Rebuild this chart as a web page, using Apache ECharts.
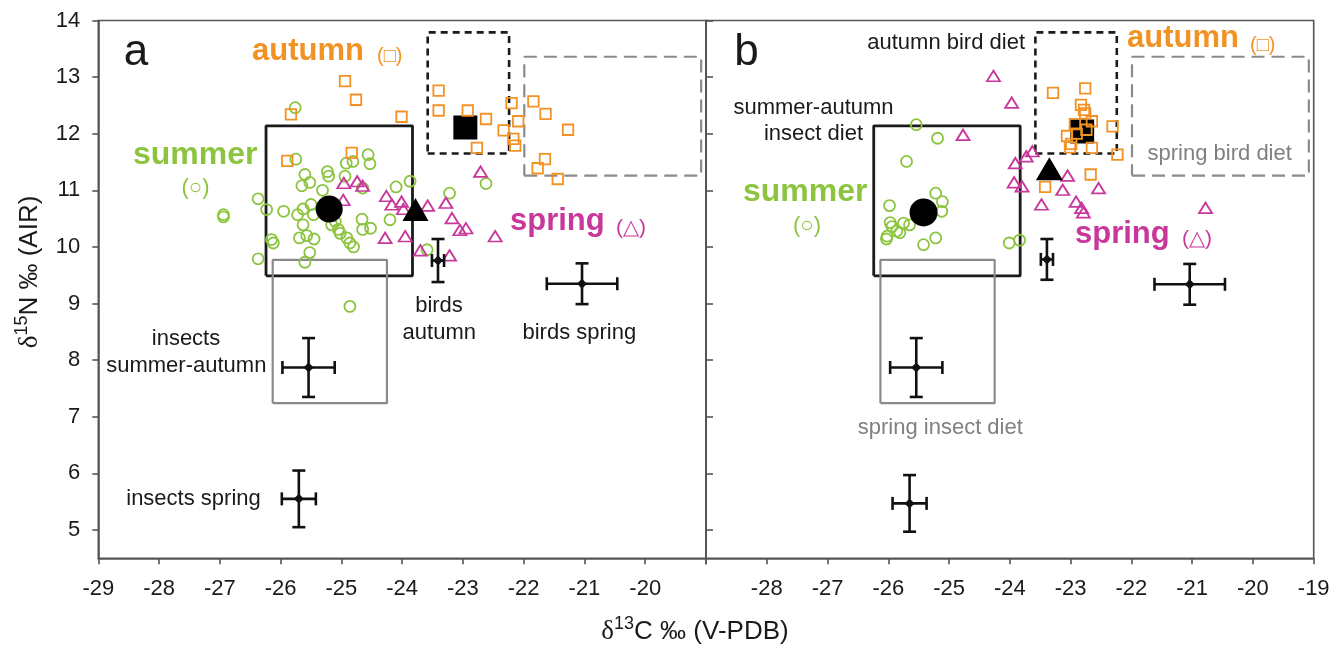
<!DOCTYPE html>
<html><head><meta charset="utf-8">
<script src="https://cdn.jsdelivr.net/npm/echarts@6/dist/echarts.min.js"></script>
<style>html,body{margin:0;padding:0;background:#fff}#c{width:1344px;height:649px}</style>
</head><body><div id="c"></div>
<script>
// ---------- data ----------
const xTicks = [-29,-28,-27,-26,-25,-24,-23,-22,-21,-20,-19];
const yTicks = [5,6,7,8,9,10,11,12,13,14];

// panel a : individual samples [d13C, d15N]
const summerA = [[-25.76,12.46],[-25.75,11.55],[-24.81,11.51],[-24.56,11.63],[-24.53,11.47],[-24.92,11.48],
 [-25.60,11.28],[-25.23,11.33],[-25.21,11.25],[-25.52,11.14],[-25.65,11.08],[-24.94,11.25],
 [-25.31,11.00],[-24.65,11.04],[-24.10,11.06],[-23.87,11.16],[-23.22,10.95],[-22.62,11.12],
 [-26.37,10.85],[-26.23,10.66],[-25.95,10.63],[-25.72,10.57],[-25.63,10.67],[-25.50,10.75],
 [-25.46,10.57],[-25.63,10.39],[-25.10,10.45],[-25.16,10.39],[-25.05,10.31],[-25.02,10.24],
 [-24.66,10.49],[-24.52,10.33],[-24.65,10.31],[-24.20,10.48],[-25.69,10.16],[-25.57,10.20],
 [-25.45,10.14],[-26.15,10.13],[-26.12,10.07],[-24.91,10.16],[-24.86,10.07],[-24.80,10.00],
 [-25.52,9.90],[-26.37,9.79],[-25.60,9.73],[-23.59,9.95],[-26.94,10.57],[-26.94,10.53],[-24.86,8.95]];
const autumnA = [[-24.94,12.93],[-24.76,12.60],[-25.83,12.34],[-24.01,12.30],[-24.83,11.66],[-25.89,11.52],
 [-23.40,12.76],[-23.40,12.41],[-22.92,12.41],[-22.62,12.26],[-22.77,11.75],[-22.33,12.06],
 [-22.20,12.54],[-22.09,12.22],[-22.17,11.91],[-22.14,11.79],[-21.84,12.57],[-21.64,12.35],
 [-21.27,12.07],[-21.65,11.55],[-21.77,11.39],[-21.44,11.20]];
const springA = [[-24.96,11.13],[-24.74,11.16],[-24.65,11.08],[-24.97,10.83],[-24.26,10.90],[-24.17,10.75],
 [-24.01,10.80],[-23.98,10.67],[-23.58,10.73],[-24.28,10.16],[-23.95,10.19],[-23.70,9.94],
 [-22.71,11.33],[-23.28,10.78],[-23.18,10.51],[-23.05,10.30],[-22.95,10.33],[-22.47,10.19],[-23.22,9.85]];

// panel b
const summerB = [[-25.54,12.16],[-25.19,11.92],[-25.70,11.51],[-25.22,10.95],[-25.11,10.80],[-25.12,10.63],
 [-25.98,10.73],[-25.97,10.43],[-25.94,10.36],[-25.75,10.42],[-25.65,10.39],[-25.86,10.28],
 [-25.81,10.25],[-26.03,10.14],[-26.02,10.19],[-25.42,10.04],[-25.22,10.16],[-24.01,10.07],[-23.84,10.12]];
const autumnB = [[-23.29,12.72],[-22.76,12.80],[-22.83,12.51],[-22.78,12.42],[-22.76,12.36],[-22.65,12.22],
 [-22.93,12.17],[-22.74,12.07],[-23.06,11.96],[-22.90,12.00],[-22.99,11.82],[-23.01,11.76],
 [-22.65,11.75],[-22.31,12.13],[-22.23,11.63],[-22.67,11.28],[-23.42,11.06]];
const springB = [[-24.27,13.02],[-23.97,12.55],[-24.77,11.98],[-23.63,11.69],[-23.73,11.60],[-23.91,11.48],
 [-23.93,11.14],[-23.80,11.07],[-23.05,11.26],[-23.13,11.01],[-22.54,11.04],[-23.48,10.75],
 [-22.91,10.80],[-22.82,10.69],[-22.79,10.61],[-20.78,10.69]];

// seasonal means [panel a, panel b]
const meanSummer = [[-25.20,10.67],[-25.42,10.61]];
const meanSpring = [[-23.78,10.66],[-23.35,11.38]];
const meanAutumn = [[-22.96,12.11],[-22.81,12.04]];

// group means with SD: [x, y, sdX, sdY]  (insects summer-autumn, insects spring, birds autumn, birds spring)
const crossesA = [[-25.54,7.87,0.43,0.52],[-25.70,5.55,0.28,0.50],[-23.41,9.76,0.10,0.38],[-21.04,9.35,0.58,0.36]];
const crossesB = [[-25.54,7.87,0.43,0.52],[-25.65,5.47,0.28,0.50],[-23.39,9.78,0.10,0.36],[-21.04,9.34,0.58,0.36]];

// diet boxes [x1, y1, x2, y2]
const boxInsectSumAut = [-26.24, 9.49, -23.83, 12.14];
const boxInsectSpring = [-26.13, 7.24, -24.25, 9.77];
const boxBirdAutumn  = [-23.58, 11.65, -22.24, 13.79];
const boxBirdSpring  = [-21.99, 11.26, -19.08, 13.36];

// ---------- styling ----------
const FONT = '"Liberation Sans", Arial, Helvetica, sans-serif';
const GREEN = '#8cc43f', ORANGE = '#f39224', MAGENTA = '#c8389b', AXIS = '#555';
const G_TOP = 20.5, G_H = 537.8;

function rectPath(b){ return [[b[0],b[1]],[b[2],b[1]],[b[2],b[3]],[b[0],b[3]],[b[0],b[1]]]; }

function boxSeries(i, b, color, width, type){
  return {type:'line', xAxisIndex:i, yAxisIndex:i, data:rectPath(b), symbol:'none', silent:true,
    lineStyle:{color, width, type}, z:2, animation:false};
}
function pointSeries(i, data, symbol, size, color, z){
  return {type:'scatter', xAxisIndex:i, yAxisIndex:i, data, symbol, symbolSize:size, silent:true, z,
    itemStyle:{color:'rgba(0,0,0,0)', borderColor:color, borderWidth:1.8, opacity:1}, animation:false};
}
function crossSeries(i, data){
  return {type:'custom', xAxisIndex:i, yAxisIndex:i, data, silent:true, z:6, animation:false,
    encode:{x:0,y:1},
    renderItem(params, api){
      const x=api.value(0), y=api.value(1), ex=api.value(2), ey=api.value(3);
      const c=api.coord([x,y]), l=api.coord([x-ex,y]), r=api.coord([x+ex,y]);
      const t=api.coord([x,y+ey]), b=api.coord([x,y-ey]);
      const cap=6.5, st={stroke:'#111', lineWidth:2.6};
      const ln=(x1,y1,x2,y2)=>({type:'line', shape:{x1,y1,x2,y2}, style:st});
      return {type:'group', children:[
        ln(l[0],c[1],r[0],c[1]), ln(c[0],t[1],c[0],b[1]),
        ln(l[0],c[1]-cap,l[0],c[1]+cap), ln(r[0],c[1]-cap,r[0],c[1]+cap),
        ln(c[0]-cap,t[1],c[0]+cap,t[1]), ln(c[0]-cap,b[1],c[0]+cap,b[1]),
        {type:'polygon', shape:{points:[[c[0],c[1]-5],[c[0]+5,c[1]],[c[0],c[1]+5],[c[0]-5,c[1]]]}, style:{fill:'#111'}}
      ]};
    }};
}
function meanSeries(i, sizes){
  return {type:'scatter', xAxisIndex:i, yAxisIndex:i, silent:true, z:7, animation:false,
    itemStyle:{color:'#000', opacity:1},
    data:[
      {value:meanSummer[i], symbol:'circle', symbolSize:sizes[0]},
      {value:meanSpring[i], symbol:'triangle', symbolSize:sizes[1]},
      {value:meanAutumn[i], symbol:'rect', symbolSize:sizes[2]}
    ]};
}
function panelSeries(i, summer, spring, autumn, crosses, sizes){
  return [
    boxSeries(i, boxInsectSumAut, '#1a1a1a', 2.8, 'solid'),
    boxSeries(i, boxInsectSpring, '#8a8a8a', 2.2, 'solid'),
    boxSeries(i, boxBirdAutumn, '#1a1a1a', 2.6, [7,5]),
    boxSeries(i, boxBirdSpring, '#8a8a8a', 2.2, [13,7]),
    pointSeries(i, summer, 'circle', 11, GREEN, 4),
    pointSeries(i, spring, 'triangle', [13,10.5], MAGENTA, 4),
    crossSeries(i, crosses),
    meanSeries(i, sizes),
    pointSeries(i, autumn, 'rect', 10.5, ORANGE, 8)
  ];
}

function xAxis(i){
  return {type:'value', gridIndex:i, min:-29, max:-19, interval:1,
    axisLine:{lineStyle:{color:AXIS, width:1.6}},
    axisTick:{length:6, lineStyle:{color:AXIS, width:1.6}},
    axisLabel:{fontSize:22, color:'#1a1a1a', fontFamily:FONT, margin:20,
      formatter:v => ((i===0 && v===-19) || (i===1 && v===-29)) ? '' : String(v)},
    splitLine:{show:false}};
}
function yAxis(i){
  return {type:'value', gridIndex:i, min:4.5, max:14,
    axisLine:{show:true, lineStyle:{color:AXIS, width:1.6}},
    axisTick:{show:true, inside:i===1, length:i===1?7:6, customValues:yTicks, lineStyle:{color:AXIS, width:1.6}},
    axisLabel:{show:i===0, fontSize:22, color:'#1a1a1a', fontFamily:FONT, margin:18, customValues:yTicks},
    splitLine:{show:false}};
}

function txt(x, y, text, o){
  o = o || {};
  return {type:'text', x, y, silent:true, z:20, style:{text, fill:o.color||'#1a1a1a', fontSize:o.size||22,
    fontFamily:o.family||FONT, fontWeight:o.weight||'normal', align:o.align||'center', verticalAlign:'middle'}};
}
const bold = (c)=>({color:c, size:31, weight:'bold', align:'left'});

const richName = {
  d:{fontFamily:'"Liberation Serif", "Times New Roman", serif', fontSize:27, fill:'#1a1a1a', lineHeight:34},
  s:{fontFamily:FONT, fontSize:18, fill:'#1a1a1a', lineHeight:18, verticalAlign:'top'},
  n:{fontFamily:FONT, fontSize:26, fill:'#1a1a1a', lineHeight:34}
};

const graphics = [
  // panel a
  txt(136, 53, 'a', {size:44}),
  txt(252, 51, 'autumn', bold(ORANGE)),
  txt(377, 56, '(□)', {color:ORANGE, size:20, align:'left'}),
  txt(133, 155.6, 'summer', {color:GREEN, size:32, weight:'bold', align:'left'}),
  txt(195.5, 188, '(○)', {color:GREEN, size:22}),
  txt(510, 221, 'spring', bold(MAGENTA)),
  txt(616, 228, '(△)', {color:MAGENTA, size:21, align:'left'}),
  txt(186, 339, 'insects'),
  txt(186.3, 366, 'summer-autumn'),
  txt(193.5, 499.4, 'insects spring'),
  txt(439, 306, 'birds'),
  txt(439.3, 333.4, 'autumn'),
  txt(579.3, 333.4, 'birds spring'),
  // panel b
  txt(746.5, 53, 'b', {size:44}),
  txt(1025, 42.7, 'autumn bird diet', {align:'right'}),
  txt(1127, 38.6, 'autumn', bold(ORANGE)),
  txt(1250, 45, '(□)', {color:ORANGE, size:20, align:'left'}),
  txt(813.5, 107.7, 'summer-autumn'),
  txt(813.5, 134.4, 'insect diet'),
  txt(867.4, 192.2, 'summer', {color:GREEN, size:32, weight:'bold', align:'right'}),
  txt(807, 226, '(○)', {color:GREEN, size:22}),
  txt(1075, 234.3, 'spring', bold(MAGENTA)),
  txt(1182, 239, '(△)', {color:MAGENTA, size:21, align:'left'}),
  txt(1219.7, 154.4, 'spring bird diet', {color:'#808080'}),
  txt(940.3, 427.7, 'spring insect diet', {color:'#808080'}),
  // axis names
  {type:'text', x:30, y:272, rotation:Math.PI/2, silent:true, z:20,
    style:{text:'{d|δ}{s|15}{n|N ‰ (AIR)}', rich:richName, align:'center', verticalAlign:'middle'}},
  {type:'text', x:695, y:632, silent:true, z:20,
    style:{text:'{d|δ}{s|13}{n|C ‰ (V-PDB)}', rich:richName, align:'center', verticalAlign:'middle'}}
];

const chart = echarts.init(document.getElementById('c'), null, {renderer:'canvas'});
chart.setOption({
  animation:false,
  backgroundColor:'#fff',
  grid:[
    {left:98.3, top:G_TOP, width:607.7, height:G_H, show:true, borderColor:AXIS, borderWidth:1.6},
    {left:706, top:G_TOP, width:607.7, height:G_H, show:true, borderColor:AXIS, borderWidth:1.6}
  ],
  xAxis:[xAxis(0), xAxis(1)],
  yAxis:[yAxis(0), yAxis(1)],
  series:[
    ...panelSeries(0, summerA, springA, autumnA, crossesA, [27,[26,23],24]),
    ...panelSeries(1, summerB, springB, autumnB, crossesB, [28,[27,23],24])
  ],
  graphic:graphics
});
</script></body></html>
